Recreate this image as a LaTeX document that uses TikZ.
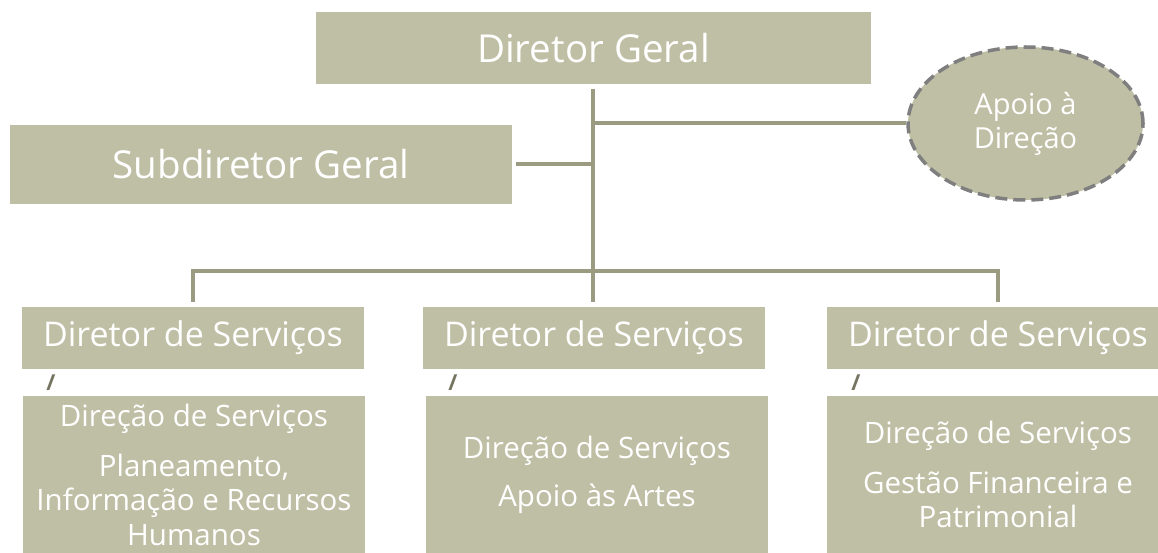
\documentclass[tikz,border=0pt]{standalone}
\usepackage{fontspec}
\setmainfont{Open Sans}
\usetikzlibrary{calc}
\usetikzlibrary{positioning}
\usetikzlibrary{shapes.geometric}
\definecolor{caixa}{RGB}{191,191,165}
\definecolor{linha}{RGB}{155,155,130}
\definecolor{contorno}{RGB}{127,127,127}
\newcommand{\edgeColor}{linha}
\newcommand{\faceColor}{caixa}
\tikzset{edge/.style = {\edgeColor, line width=4pt}}
\tikzset{face/.style = {rectangle, fill=\faceColor, text=white, align=center, inner sep=0pt}}
\tikzset{apoio/.style = {ellipse, fill=\faceColor, draw=contorno, dash pattern=on 12pt off 6pt, line width=3.5pt, text=white, align=center, inner sep=0pt}}
\tikzset{barra/.style = {text=linha!75!black, font=\fontsize{22}{24}\selectfont\bfseries}}

\begin{document}
\begin{tikzpicture}[x=1pt, y=-1pt]
                    \def\larg{342}
                    \def\alt{62}
                    \useasboundingbox (0,0) rectangle (1158,553);

                    \node[face, minimum width=555pt, minimum height=72pt, font=\fontsize{38.5}{44}\selectfont] (geral) at (593.5,48) {Diretor Geral};
                    \node[face, minimum width=502pt, minimum height=79pt, font=\fontsize{38.5}{44}\selectfont] (subgeral) at (261,164.5) {Subdiretor Geral};
                    \node[apoio, minimum width=235pt, minimum height=153pt, font=\fontsize{29}{34}\selectfont] (apoiodir) at (1025.5,123.5) {Apoio à\\Direção};

                    \node[face, minimum width=\larg pt, minimum height=\alt pt, font=\fontsize{34}{38}\selectfont] (ds1) at (193,338) {Diretor de Serviços};
                    \node[face, minimum width=\larg pt, minimum height=\alt pt, font=\fontsize{34}{38}\selectfont] (ds2) at (594,338) {Diretor de Serviços};
                    \node[face, minimum width=\larg pt, minimum height=\alt pt, font=\fontsize{34}{38}\selectfont] (ds3) at (998,338) {Diretor de Serviços};

                    \node[barra] (b1) at (51,383) {/};
                    \node[barra] (b2) at (453,383) {/};
                    \node[barra] (b3) at (856,383) {/};

                    \node[face, minimum width=\larg pt, minimum height=157pt, font=\fontsize{29.5}{34}\selectfont] (dir1) at (194,474.5) {Direção de Serviços\\[16pt] Planeamento,\\ Informação e Recursos\\[1pt] Humanos};
                    \node[face, minimum width=\larg pt, minimum height=157pt, font=\fontsize{29.5}{34}\selectfont] (dir2) at (597,474.5) {Direção de Serviços\\[14pt] Apoio às Artes};
                    \node[face, minimum width=\larg pt, minimum height=157pt, font=\fontsize{29.5}{34}\selectfont] (dir3) at (998,474.5) {Direção de Serviços\\[16pt] Gestão Financeira e\\ Patrimonial};

                    % tronco principal e ramos
                    \coordinate (topo) at ($(geral.south)+(-0.5,5)$);
                    \coordinate (fundo) at ($(ds2.north)+(-1,-5)$);
                    \draw[edge] (topo) -- (fundo);
                    \draw[edge] (apoiodir.west) -- (apoiodir.west -| topo);
                    \draw[edge] ($(subgeral.east)+(4,0)$) -- (subgeral.east -| topo);
                    \coordinate (barramento) at (593,271);
                    \draw[edge] ($(ds1.north)+(0,-5)$) -- (ds1.north |- barramento) -- (ds3.north |- barramento) -- ($(ds3.north)+(0,-5)$);
                \end{tikzpicture}
\end{document}
